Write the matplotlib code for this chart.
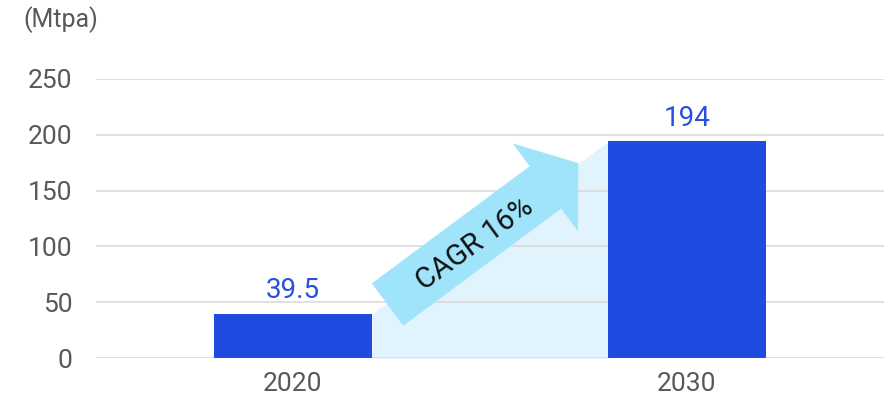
import numpy as np
import matplotlib.pyplot as plt
from matplotlib.patches import FancyArrowPatch, ArrowStyle

plt.rcParams['font.family'] = ['Roboto', 'DejaVu Sans']

years = ['2020', '2030']
capacity = [39.5, 194]
value_labels = ['39.5', '194']
y_ticks = [0, 50, 100, 150, 200, 250]
growth_label = 'CAGR 16%'

bar_color = '#1f4be0'
label_blue = '#2650e0'
fill_color = '#e1f4fd'
arrow_color = '#a0e4fb'
grid_color = '#dadada'
tick_color = '#595959'

fig = plt.figure(figsize=(8.89, 4.01), dpi=100)
ax = fig.add_axes([96 / 889, 43 / 401, 788 / 889, 279 / 401])

x = np.arange(len(years))
width = 0.4

# horizontal guide lines, drawn over the shaded growth area
for t in y_ticks:
    ax.axhline(t, color=grid_color, lw=1.2, zorder=1)

# shaded wedge joining the tops of the two bars
ax.fill_between([x[0] + width / 2, x[1] - width / 2], 0, capacity,
                color=fill_color, lw=0, zorder=0.5)

ax.bar(x, capacity, width=width, color=bar_color, zorder=2)

for xi, v, s in zip(x, capacity, value_labels):
    ax.annotate(s, (xi, v), xytext=(0, 7), textcoords='offset points',
                ha='center', va='bottom', fontsize=20, color=label_blue)

# growth arrow between the bars
arrow = FancyArrowPatch(posA=(0.240, 47.9), posB=(0.724, 174.7),
                        arrowstyle=ArrowStyle.Simple(head_length=29.5, head_width=79, tail_width=38),
                        mutation_scale=1, shrinkA=0, shrinkB=0,
                        color=arrow_color, lw=0, zorder=3)
ax.add_patch(arrow)
ax.text(0.462, 102, growth_label, rotation=36, rotation_mode='anchor',
        ha='center', va='center', fontsize=21, color='#111111', zorder=4)

ax.set_xlim(-0.5, 1.5)
ax.set_ylim(0, 250)
ax.set_xticks(x)
ax.set_xticklabels(years)
ax.set_yticks(y_ticks)
ax.tick_params(axis='both', length=0, colors=tick_color, labelsize=19)
ax.tick_params(axis='y', pad=17)
ax.tick_params(axis='x', pad=10)
for s in ax.spines.values():
    s.set_visible(False)

fig.text(23 / 889, 1 - 6 / 401, '(Mtpa)', ha='left', va='top',
         fontsize=18, color=tick_color)

fig.savefig('out.png', dpi=100)
